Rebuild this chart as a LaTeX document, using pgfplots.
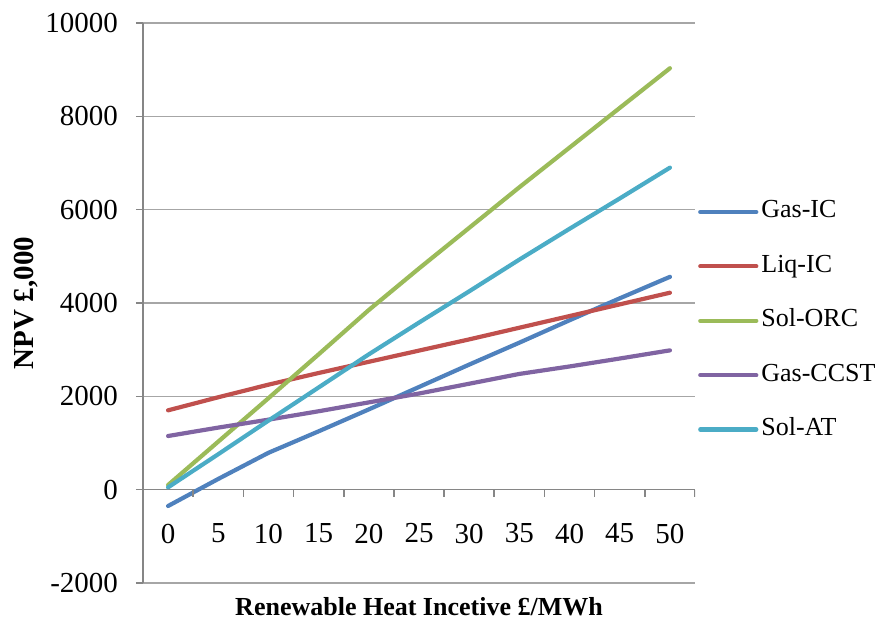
\documentclass[border=0pt]{standalone}
\usepackage{fontspec}
\setmainfont{Liberation Serif}
\usepackage{pgfplots}
\pgfplotsset{compat=1.18}

\definecolor{gasic}{HTML}{4F81BD}
\definecolor{liqic}{HTML}{C0504D}
\definecolor{solorc}{HTML}{9BBB59}
\definecolor{gasccst}{HTML}{8064A2}
\definecolor{solat}{HTML}{4BACC6}
\definecolor{gridgray}{HTML}{A6A6A6}
\definecolor{axisgray}{HTML}{868686}

\begin{document}
\begin{tikzpicture}
\begin{axis}[
    name=ax,
    width=276pt, height=280pt, scale only axis,
    xmin=-2.5, xmax=52.5, ymin=-2000, ymax=10000,
    axis y line=left, axis x line=middle,
    axis line style={-, draw=axisgray, line width=0.8pt},
    hide obscured x ticks=false, hide obscured y ticks=false,
    font=\fontsize{13}{15}\selectfont,
    ticklabel style={font=\fontsize{14.5}{16}\selectfont},
    ytick={-2000,0,2000,4000,6000,8000,10000},
    scaled y ticks=false,
    xtick={0,5,...,50},
    major x tick style={draw=none},
    ytick style={draw=axisgray, line width=0.8pt},
    tick align=outside, major tick length=3.5pt,
    ymajorgrids, grid style={draw=gridgray, line width=0.8pt},
    /pgf/number format/assume math mode=true,
    /pgf/number format/set thousands separator={},
    xticklabel style={yshift=-10pt},
    yticklabel style={xshift=-5.5pt},
    xlabel={\textbf{Renewable Heat Incetive £/MWh}},
    ylabel={\textbf{NPV £,000}},
    x label style={at={(rel axis cs:0.5,0)}, anchor=center, yshift=-12pt},
    y label style={at={(rel axis cs:0,0.5)}, anchor=center, yshift=58.5pt,
        font=\fontsize{14.5}{16}\selectfont},
    legend style={at={(rel axis cs:1.005,0.69)}, anchor=north west, draw=none,
        fill=none, inner sep=0pt, row sep=12.2pt,
        nodes={inner sep=1.5pt, text height=9pt, text depth=3pt},
        font=\fontsize{13}{15}\selectfont},
    legend cell align=left,
    legend image code/.code={\draw[#1] (0pt,0pt) -- (28pt,0pt);},
    every axis plot/.append style={line width=2.1pt, line join=round, line cap=round},
]
\addplot[gasic] coordinates {
    (0,-350) (5,230) (10,790) (15,1250) (20,1720) (25,2200)
    (30,2680) (35,3150) (40,3630) (45,4100) (50,4560)
};
\addlegendentry{Gas-IC}
\addplot[liqic] coordinates {
    (0,1700) (5,1980) (10,2250) (15,2500) (20,2740) (25,2980)
    (30,3220) (35,3470) (40,3720) (45,3970) (50,4220)
};
\addlegendentry{Liq-IC}
\addplot[solorc] coordinates {
    (0,100) (5,1030) (10,1960) (15,2900) (20,3850) (25,4740)
    (30,5610) (35,6480) (40,7330) (45,8180) (50,9030)
};
\addlegendentry{Sol-ORC}
\addplot[gasccst] coordinates {
    (0,1150) (5,1330) (10,1500) (15,1680) (20,1870) (25,2060)
    (30,2270) (35,2480) (40,2640) (45,2810) (50,2985)
};
\addlegendentry{Gas-CCST}
\addplot[solat] coordinates {
    (0,50) (5,760) (10,1480) (15,2190) (20,2900) (25,3580)
    (30,4250) (35,4930) (40,5590) (45,6240) (50,6900)
};
\addlegendentry{Sol-AT}
\pgfplotsinvokeforeach{-2.5,2.5,7.5,12.5,17.5,22.5,27.5,32.5,37.5,42.5,47.5,52.5}{
    \draw[axisgray, line width=0.8pt] (axis cs:#1,0) -- ++(0pt,-3.5pt);
}
\end{axis}
\pgfresetboundingbox
\path[use as bounding box] ([shift={(-71.5pt,-23.5pt)}]ax.south west)
    rectangle ([shift={(95.5pt,11.5pt)}]ax.north east);
\end{tikzpicture}
\end{document}
